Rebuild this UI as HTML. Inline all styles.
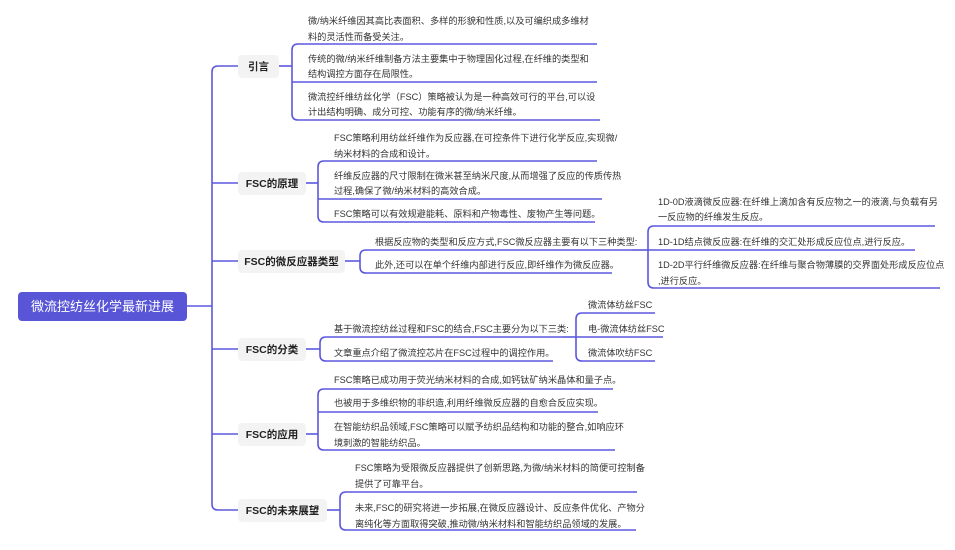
<!DOCTYPE html>
<html><head><meta charset="utf-8"><style>
html,body{margin:0;padding:0;background:#fff;width:955px;height:550px;overflow:hidden}
svg{display:block}
text{font-family:"Liberation Sans","Noto Sans CJK SC",sans-serif;font-size:9.2px;fill:#333}
.l1{font-size:10.5px;font-weight:bold;fill:#222}
</style></head><body>
<svg width="955" height="550" viewBox="0 0 955 550">
<g fill="none" stroke="#5b58de" stroke-width="1.6">
<path d="M187,306 H212"/>
<path d="M238,66 H218 Q212,66 212,72 V504 Q212,510 218,510 H238"/>
<path d="M212,183 H238 M212,261 H238 M212,349 H238 M212,434 H238"/>
<path d="M279,66 H292"/>
<path d="M597,44 H298 Q292,44 292,50 V114 Q292,120 298,120 H600"/>
<path d="M292,82 H597"/>
<path d="M306,183 H318"/>
<path d="M597,161 H324 Q318,161 318,167 V216 Q318,222 324,222 H595"/>
<path d="M318,199 H602"/>
<path d="M345,261 H360"/>
<path d="M632,250 H366 Q360,250 360,256 V267 Q360,273 366,273 H612"/>
<path d="M632,250 H648"/>
<path d="M935,226 H654 Q648,226 648,232 V282 Q648,288 654,288 H940"/>
<path d="M648,250 H915"/>
<path d="M306,349 H320"/>
<path d="M563,337 H326 Q320,337 320,343 V355 Q320,361 326,361 H553"/>
<path d="M563,337 H576"/>
<path d="M655,313 H582 Q576,313 576,319 V355 Q576,361 582,361 H655"/>
<path d="M576,337 H663"/>
<path d="M306,434 H318"/>
<path d="M613,389 H324 Q318,389 318,395 V444 Q318,450 324,450 H615"/>
<path d="M318,412 H598"/>
<path d="M327,510 H340"/>
<path d="M637,492 H346 Q340,492 340,498 V524 Q340,530 346,530 H636"/>
</g>
<rect x="18" y="292" width="169" height="29" rx="4" fill="#5856d6"/>
<text x="102.5" y="311" text-anchor="middle" style="fill:#fff;font-size:13px">微流控纺丝化学最新进展</text>
<g fill="#f3f3f3">
<rect x="238" y="55" width="41" height="23" rx="4"/>
<rect x="238" y="172" width="68" height="23" rx="4"/>
<rect x="238" y="250" width="107" height="23" rx="4"/>
<rect x="238" y="338" width="68" height="23" rx="4"/>
<rect x="238" y="423" width="68" height="23" rx="4"/>
<rect x="238" y="499" width="89" height="23" rx="4"/>
</g>
<text class="l1" x="258.5" y="70" text-anchor="middle">引言</text>
<text class="l1" x="272" y="187" text-anchor="middle">FSC的原理</text>
<text class="l1" x="291.5" y="265" text-anchor="middle">FSC的微反应器类型</text>
<text class="l1" x="272" y="353" text-anchor="middle">FSC的分类</text>
<text class="l1" x="272" y="438" text-anchor="middle">FSC的应用</text>
<text class="l1" x="282.5" y="514" text-anchor="middle">FSC的未来展望</text>

<text x="308" y="24">微/纳米纤维因其高比表面积、多样的形貌和性质,以及可编织成多维材</text>
<text x="308" y="40">料的灵活性而备受关注。</text>
<text x="308" y="62">传统的微/纳米纤维制备方法主要集中于物理固化过程,在纤维的类型和</text>
<text x="308" y="77">结构调控方面存在局限性。</text>
<text x="308" y="100">微流控纤维纺丝化学（FSC）策略被认为是一种高效可行的平台,可以设</text>
<text x="308" y="115">计出结构明确、成分可控、功能有序的微/纳米纤维。</text>

<text x="334" y="141">FSC策略利用纺丝纤维作为反应器,在可控条件下进行化学反应,实现微/</text>
<text x="334" y="157">纳米材料的合成和设计。</text>
<text x="334" y="179">纤维反应器的尺寸限制在微米甚至纳米尺度,从而增强了反应的传质传热</text>
<text x="334" y="194">过程,确保了微/纳米材料的高效合成。</text>
<text x="334" y="217">FSC策略可以有效规避能耗、原料和产物毒性、废物产生等问题。</text>

<text x="375" y="245">根据反应物的类型和反应方式,FSC微反应器主要有以下三种类型:</text>
<text x="375" y="268">此外,还可以在单个纤维内部进行反应,即纤维作为微反应器。</text>
<text x="658" y="205">1D-0D液滴微反应器:在纤维上滴加含有反应物之一的液滴,与负载有另</text>
<text x="658" y="220">一反应物的纤维发生反应。</text>
<text x="658" y="245">1D-1D结点微反应器:在纤维的交汇处形成反应位点,进行反应。</text>
<text x="658" y="268">1D-2D平行纤维微反应器:在纤维与聚合物薄膜的交界面处形成反应位点</text>
<text x="658" y="284">,进行反应。</text>

<text x="334" y="332">基于微流控纺丝过程和FSC的结合,FSC主要分为以下三类:</text>
<text x="334" y="356">文章重点介绍了微流控芯片在FSC过程中的调控作用。</text>
<text x="588" y="308">微流体纺丝FSC</text>
<text x="588" y="332">电-微流体纺丝FSC</text>
<text x="588" y="356">微流体吹纺FSC</text>

<text x="334" y="383">FSC策略已成功用于荧光纳米材料的合成,如钙钛矿纳米晶体和量子点。</text>
<text x="334" y="406">也被用于多维织物的非织造,利用纤维微反应器的自愈合反应实现。</text>
<text x="334" y="430">在智能纺织品领域,FSC策略可以赋予纺织品结构和功能的整合,如响应环</text>
<text x="334" y="446">境刺激的智能纺织品。</text>

<text x="355" y="471">FSC策略为受限微反应器提供了创新思路,为微/纳米材料的简便可控制备</text>
<text x="355" y="487">提供了可靠平台。</text>
<text x="355" y="511">未来,FSC的研究将进一步拓展,在微反应器设计、反应条件优化、产物分</text>
<text x="355" y="527">离纯化等方面取得突破,推动微/纳米材料和智能纺织品领域的发展。</text>
</svg>
</body></html>
